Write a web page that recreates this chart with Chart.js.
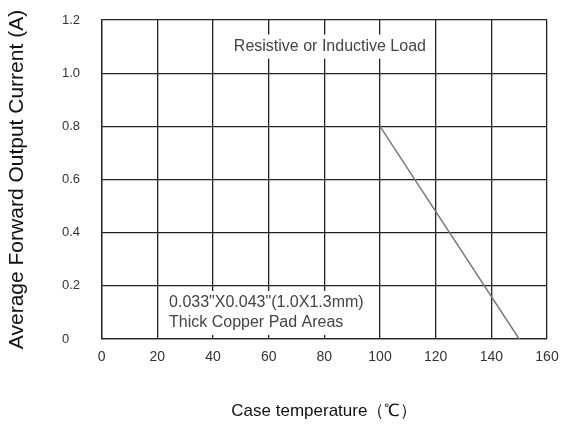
<!DOCTYPE html>
<html>
<head>
<meta charset="utf-8">
<script src="https://cdn.jsdelivr.net/npm/chart.js@4"></script>
<style>
  html, body { margin: 0; padding: 0; background: #fff; }
  #wrap { width: 561px; height: 430px; }
</style>
</head>
<body>
<div id="wrap"><canvas id="derating"></canvas></div>
<script>
// derating part of the curve (the flat 0.8A part sits on the grid line)
const caseTemp = [100, 150];
const outputCurrent = [0.8, 0];
const xTicks = [0, 20, 40, 60, 80, 100, 120, 140, 160];
const yTicks = [0, 0.2, 0.4, 0.6, 0.8, 1.0, 1.2];

// text notes written inside the grid, on a white patch
const notes = [
  { x: 82, y: 1.1, align: 'center', lines: ['Resistive or Inductive Load'] },
  { x: 24.2, y: 0.098, align: 'left', lines: ['0.033"X0.043"(1.0X1.3mm)', 'Thick Copper Pad Areas'] }
];

const FONT = 'Arial, "Liberation Sans", sans-serif';

const notesPlugin = {
  id: 'notes',
  beforeDatasetsDraw(chart) {
    const ctx = chart.ctx;
    const xs = chart.scales.x, ys = chart.scales.y;
    ctx.save();
    ctx.font = '16px ' + FONT;
    ctx.textBaseline = 'middle';
    notes.forEach(n => {
      const lh = 20;
      const px = xs.getPixelForValue(n.x);
      const py = ys.getPixelForValue(n.y);
      const w = Math.max(...n.lines.map(l => ctx.measureText(l).width));
      const h = lh * n.lines.length;
      const left = n.align === 'center' ? px - w / 2 : px;
      ctx.fillStyle = '#fff';
      ctx.fillRect(left - 6, py - h / 2 - 2, w + 12, h + 4);
      ctx.fillStyle = '#444';
      ctx.textAlign = 'left';
      n.lines.forEach((l, i) => {
        ctx.fillText(l, left, py - h / 2 + lh / 2 + i * lh);
      });
    });
    ctx.restore();
  }
};

const ctx = document.getElementById('derating').getContext('2d');
new Chart(ctx, {
  type: 'line',
  data: {
    datasets: [{
      data: caseTemp.map((t, i) => ({ x: t, y: outputCurrent[i] })),
      borderColor: '#7a7a7a',
      borderWidth: 1.5,
      pointRadius: 0,
      fill: false,
      tension: 0
    }]
  },
  options: {
    responsive: true,
    maintainAspectRatio: false,
    animation: false,
    layout: { padding: { left: 1, right: 14, top: 20, bottom: 4 } },
    plugins: { legend: { display: false }, tooltip: { enabled: false } },
    scales: {
      x: {
        type: 'linear',
        min: 0, max: 160,
        afterBuildTicks: s => { s.ticks = xTicks.map(v => ({ value: v })); },
        afterFit: s => { s.height = 87; s.paddingLeft = 0; s.paddingRight = 0; },
        grid: { color: '#222', lineWidth: 1.3, drawTicks: false },
        border: { color: '#222', width: 1.3 },
        ticks: { padding: 10, color: '#333', font: { family: FONT, size: 14 } },
        title: {
          display: true,
          text: 'Case temperature（℃）',
          color: '#111',
          font: { family: FONT, size: 17 }
        }
      },
      y: {
        type: 'linear',
        min: 0, max: 1.2,
        weight: 0,
        afterBuildTicks: s => { s.ticks = yTicks.map(v => ({ value: v })); },
        afterFit: s => { s.width = 39.7; s.paddingTop = 0; s.paddingBottom = 0; },
        grid: { color: '#222', lineWidth: 1.3, drawTicks: false },
        border: { color: '#222', width: 1.3 },
        ticks: {
          crossAlign: 'far',
          color: '#333',
          font: { family: FONT, size: 13 },
          callback: v => v === 0 ? '0' : v.toFixed(1)
        }
      },
      // holds only the y title, outside the tick labels
      yTitle: {
        type: 'linear',
        position: 'left',
        weight: 1,
        min: 0, max: 1.2,
        afterFit: s => { s.width = 61; },
        grid: { display: false },
        border: { display: false },
        ticks: { display: false },
        title: {
          display: true,
          text: 'Average Forward Output Current (A)',
          color: '#111',
          font: { family: FONT, size: 21 }
        }
      }
    }
  },
  plugins: [notesPlugin]
});
</script>
</body>
</html>
